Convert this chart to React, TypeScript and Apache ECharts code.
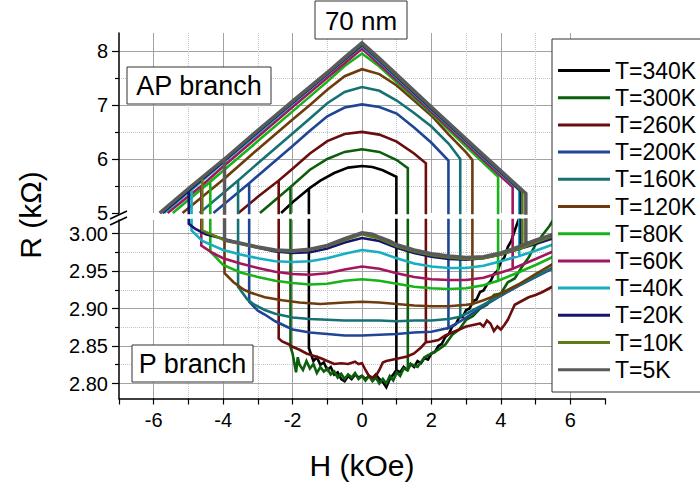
import { useEffect, useRef } from 'react';
import * as echarts from 'echarts';

const FONT = '"Liberation Sans", Arial, Helvetica, sans-serif';

const temps = ['T=340K', 'T=300K', 'T=260K', 'T=200K', 'T=160K', 'T=120K', 'T=80K', 'T=60K', 'T=40K', 'T=20K', 'T=10K', 'T=5K'];
const colors = ['#000000', '#0b5e0b', '#6b0d0d', '#1f4596', '#167272', '#6e3b0c', '#19b219', '#a3155d', '#17aec4', '#15156e', '#5d7d10', '#5a5a5a'];

// switching fields (kOe): P->AP on the left, AP->P on the right
const hLeft = [-1.53, -2.06, -2.4, -3.25, -3.57, -3.96, -4.37, -4.63, -4.91, -4.99, -4.6, -3.96];
const hRight = [0.99, 1.32, 1.84, 2.49, 2.83, 3.18, 3.92, 4.34, 4.53, 4.57, 4.62, 4.72];

// AP branch (kOhm)
const ap340 = [[-2.33, 5.0], [-2.0, 5.2], [-1.53, 5.45], [-1.2, 5.6], [-0.8, 5.74], [-0.4, 5.84], [0, 5.87], [0.3, 5.85], [0.6, 5.79], [0.99, 5.67]];
const ap300 = [[-2.94, 5.0], [-2.5, 5.24], [-2.06, 5.48], [-1.5, 5.8], [-1.0, 6.0], [-0.5, 6.13], [0, 6.18], [0.5, 6.13], [1.0, 5.98], [1.32, 5.83]];
const ap260 = [[-3.56, 5.0], [-3.0, 5.3], [-2.4, 5.6], [-2.0, 5.82], [-1.5, 6.1], [-1.0, 6.33], [-0.5, 6.46], [0, 6.5], [0.5, 6.45], [1.0, 6.32], [1.5, 6.1], [1.84, 5.92]];
const ap200 = [[-4.28, 5.0], [-3.25, 5.55], [-3.0, 5.69], [-2.0, 6.24], [-1.5, 6.52], [-1.0, 6.79], [-0.5, 6.95], [0, 7.01], [0.5, 6.96], [1.0, 6.84], [1.5, 6.58], [2.0, 6.3], [2.49, 5.97]];
const ap160 = [[-4.68, 5.0], [-3.57, 5.6], [-3.0, 5.92], [-2.0, 6.47], [-1.5, 6.75], [-1.0, 7.03], [-0.5, 7.24], [0, 7.33], [0.5, 7.26], [1.0, 7.08], [1.5, 6.85], [2.0, 6.6], [2.5, 6.28], [2.83, 6.0]];
const ap120 = [[-5.17, 5.0], [-3.96, 5.64], [-3.0, 6.18], [-2.0, 6.73], [-1.5, 7.0], [-1.0, 7.28], [-0.5, 7.53], [0, 7.66], [0.5, 7.57], [1.0, 7.36], [1.5, 7.08], [2.0, 6.8], [2.5, 6.45], [3.0, 6.12], [3.18, 5.98]];
const ap80 = [[-5.45, 5.0], [-4.37, 5.58], [-4.0, 5.78], [-3.0, 6.33], [-2.0, 6.88], [-1.0, 7.43], [-0.5, 7.72], [0, 7.95], [0.5, 7.71], [1.0, 7.42], [2.0, 6.84], [3.0, 6.23], [3.92, 5.67]];
const ap60 = [[-5.6, 5.0], [-4.63, 5.5], [-4.0, 5.86], [-3.0, 6.41], [-2.0, 6.96], [-1.0, 7.5], [-0.5, 7.77], [0, 8.04], [0.5, 7.75], [1.0, 7.46], [2.0, 6.87], [3.0, 6.28], [4.0, 5.68], [4.34, 5.48]];
const ap40 = [[-5.7, 5.0], [-4.91, 5.43], [-4.0, 5.93], [-3.0, 6.47], [-2.0, 7.02], [-1.0, 7.56], [-0.5, 7.83], [0, 8.09], [0.5, 7.8], [1.0, 7.5], [2.0, 6.91], [3.0, 6.32], [4.0, 5.73], [4.53, 5.42]];
const ap20 = [[-5.75, 5.0], [-4.99, 5.41], [-4.0, 5.95], [-3.0, 6.5], [-2.0, 7.04], [-1.0, 7.57], [-0.5, 7.84], [0, 8.11], [0.5, 7.82], [1.0, 7.52], [2.0, 6.93], [3.0, 6.34], [4.0, 5.75], [4.57, 5.41]];
const ap10 = [[-5.8, 5.0], [-5.0, 5.44], [-4.6, 5.65], [-3.0, 6.52], [-2.0, 7.06], [-1.0, 7.59], [-0.5, 7.86], [0, 8.13], [0.5, 7.84], [1.0, 7.54], [2.0, 6.95], [3.0, 6.36], [4.0, 5.77], [4.62, 5.4]];
const ap5 = [[-5.83, 5.0], [-5.0, 5.45], [-3.96, 6.0], [-3.0, 6.53], [-2.0, 7.07], [-1.0, 7.6], [-0.5, 7.88], [0, 8.15], [0.5, 7.86], [1.0, 7.56], [2.0, 6.96], [3.0, 6.37], [4.0, 5.78], [4.72, 5.36]];

// P branch (kOhm)
const p340 = [[-1.53, 2.847], [-1.4, 2.83], [-1.3, 2.835], [-1.2, 2.825], [-1.1, 2.828], [-1.0, 2.818], [-0.9, 2.822], [-0.8, 2.812], [-0.7, 2.815], [-0.6, 2.806], [-0.5, 2.803], [-0.4, 2.81], [-0.3, 2.806], [-0.2, 2.812], [-0.1, 2.808], [0, 2.81], [0.1, 2.806], [0.2, 2.81], [0.3, 2.807], [0.4, 2.812], [0.5, 2.806], [0.6, 2.802], [0.7, 2.795], [0.8, 2.806], [0.9, 2.812], [0.99, 2.818], [1.1, 2.815], [1.2, 2.822], [1.3, 2.818], [1.4, 2.826], [1.5, 2.822], [1.6, 2.83], [1.7, 2.827], [1.8, 2.834], [1.9, 2.832], [2.0, 2.84], [2.1, 2.842], [2.2, 2.85], [2.3, 2.853], [2.4, 2.862], [2.5, 2.866], [2.6, 2.876], [2.7, 2.879], [2.8, 2.888], [2.9, 2.889], [3.0, 2.898], [3.1, 2.9], [3.2, 2.91], [3.3, 2.912], [3.4, 2.922], [3.5, 2.924], [3.6, 2.932], [3.7, 2.936], [3.8, 2.946], [3.9, 2.95], [4.0, 2.962], [4.1, 2.968], [4.2, 2.982], [4.3, 2.99], [4.4, 3.004], [4.6, 3.03]];
const p300 = [[-2.06, 2.849], [-2.0, 2.84], [-1.9, 2.815], [-1.85, 2.835], [-1.8, 2.825], [-1.7, 2.818], [-1.6, 2.83], [-1.5, 2.82], [-1.4, 2.826], [-1.3, 2.814], [-1.2, 2.822], [-1.1, 2.816], [-1.0, 2.82], [-0.9, 2.812], [-0.8, 2.816], [-0.7, 2.808], [-0.6, 2.813], [-0.5, 2.806], [-0.4, 2.812], [-0.3, 2.808], [-0.2, 2.814], [-0.1, 2.806], [0, 2.81], [0.1, 2.804], [0.2, 2.81], [0.3, 2.803], [0.4, 2.808], [0.5, 2.8], [0.6, 2.806], [0.7, 2.8], [0.8, 2.81], [0.9, 2.804], [1.0, 2.815], [1.1, 2.81], [1.2, 2.82], [1.32, 2.818], [1.4, 2.826], [1.6, 2.822], [1.8, 2.835], [2.0, 2.84], [2.2, 2.845], [2.4, 2.852], [2.6, 2.865], [2.8, 2.872], [3.0, 2.885], [3.2, 2.89], [3.4, 2.9], [3.6, 2.905], [3.8, 2.918], [4.0, 2.92], [4.2, 2.935], [4.4, 2.94], [4.6, 2.955], [4.8, 2.968], [5.0, 2.985], [5.2, 2.998], [5.4, 3.01], [5.6, 3.025]];
const p260 = [[-2.4, 2.86], [-2.3, 2.856], [-2.1, 2.852], [-2.0, 2.849], [-1.8, 2.845], [-1.6, 2.84], [-1.4, 2.837], [-1.2, 2.834], [-1.0, 2.83], [-0.8, 2.826], [-0.6, 2.827], [-0.4, 2.826], [-0.2, 2.829], [-0.1, 2.826], [0, 2.827], [0.1, 2.818], [0.2, 2.81], [0.3, 2.808], [0.4, 2.81], [0.5, 2.818], [0.6, 2.828], [0.7, 2.83], [0.9, 2.832], [1.1, 2.834], [1.3, 2.836], [1.5, 2.84], [1.7, 2.848], [1.84, 2.855], [2.0, 2.856], [2.2, 2.858], [2.4, 2.864], [2.6, 2.868], [2.8, 2.872], [3.0, 2.876], [3.2, 2.878], [3.4, 2.88], [3.5, 2.876], [3.6, 2.884], [3.7, 2.88], [3.8, 2.87], [3.9, 2.876], [4.0, 2.872], [4.1, 2.878], [4.2, 2.885], [4.3, 2.895], [4.4, 2.905], [4.6, 2.91], [4.8, 2.915], [5.0, 2.918], [5.2, 2.922], [5.4, 2.927], [5.6, 2.932]];
const p200 = [[-3.25, 2.909], [-3.0, 2.897], [-2.8, 2.892], [-2.5, 2.883], [-2.0, 2.872], [-1.5, 2.868], [-1.0, 2.866], [-0.5, 2.864], [0, 2.864], [0.5, 2.865], [1.0, 2.866], [1.5, 2.868], [2.0, 2.869], [2.49, 2.874], [2.8, 2.882], [3.0, 2.888], [3.5, 2.903], [4.0, 2.917], [4.5, 2.93], [5.0, 2.942], [5.6, 2.956]];
const p160 = [[-3.57, 2.929], [-3.3, 2.912], [-3.1, 2.905], [-2.8, 2.898], [-2.5, 2.893], [-2.0, 2.888], [-1.5, 2.886], [-1.0, 2.885], [-0.5, 2.884], [0, 2.884], [0.5, 2.884], [1.0, 2.883], [1.5, 2.884], [2.0, 2.884], [2.5, 2.886], [2.83, 2.889], [3.0, 2.893], [3.5, 2.905], [4.0, 2.918], [4.5, 2.931], [5.0, 2.943], [5.6, 2.957]];
const p120 = [[-3.96, 2.947], [-3.7, 2.935], [-3.4, 2.925], [-3.2, 2.921], [-2.8, 2.915], [-2.3, 2.911], [-1.8, 2.908], [-1.2, 2.906], [-0.5, 2.908], [0, 2.909], [0.5, 2.908], [1.0, 2.906], [1.5, 2.904], [2.0, 2.903], [2.5, 2.903], [3.0, 2.905], [3.18, 2.906], [3.5, 2.911], [4.0, 2.92], [4.5, 2.932], [5.0, 2.946], [5.6, 2.962]];
const p80 = [[-4.37, 2.976], [-4.0, 2.958], [-3.5, 2.948], [-3.0, 2.942], [-2.5, 2.937], [-2.0, 2.934], [-1.5, 2.932], [-1.0, 2.933], [-0.5, 2.937], [0, 2.939], [0.5, 2.937], [1.0, 2.933], [1.5, 2.929], [2.0, 2.927], [2.5, 2.926], [3.0, 2.927], [3.5, 2.931], [3.92, 2.937], [4.5, 2.948], [5.0, 2.958], [5.6, 2.971]];
const p60 = [[-4.63, 2.984], [-4.3, 2.974], [-4.0, 2.967], [-3.5, 2.96], [-3.0, 2.954], [-2.5, 2.949], [-2.0, 2.946], [-1.5, 2.945], [-1.0, 2.947], [-0.5, 2.952], [0, 2.956], [0.5, 2.953], [1.0, 2.947], [1.5, 2.942], [2.0, 2.939], [2.5, 2.938], [3.0, 2.938], [3.5, 2.941], [4.0, 2.948], [4.34, 2.953], [5.0, 2.966], [5.6, 2.978]];
const p40 = [[-4.91, 3.004], [-4.6, 2.99], [-4.0, 2.978], [-3.5, 2.972], [-3.0, 2.967], [-2.5, 2.963], [-2.0, 2.962], [-1.5, 2.963], [-1.0, 2.967], [-0.5, 2.973], [0, 2.978], [0.5, 2.975], [1.0, 2.967], [1.5, 2.96], [2.0, 2.956], [2.5, 2.954], [3.0, 2.954], [3.5, 2.957], [4.0, 2.963], [4.53, 2.97], [5.0, 2.977], [5.6, 2.987]];
const p20 = [[-4.99, 3.013], [-4.8, 3.006], [-4.5, 2.999], [-4.0, 2.993], [-3.5, 2.987], [-3.0, 2.981], [-2.5, 2.976], [-2.0, 2.974], [-1.5, 2.975], [-1.0, 2.98], [-0.5, 2.988], [0, 2.994], [0.5, 2.99], [1.0, 2.981], [1.5, 2.974], [2.0, 2.969], [2.5, 2.966], [3.0, 2.965], [3.5, 2.967], [4.0, 2.972], [4.57, 2.98], [5.0, 2.986], [5.6, 2.995]];
const p10 = [[-4.6, 3.004], [-4.3, 2.998], [-4.0, 2.992], [-3.5, 2.986], [-3.0, 2.981], [-2.5, 2.977], [-2.0, 2.976], [-1.5, 2.978], [-1.0, 2.983], [-0.5, 2.991], [0, 2.999], [0.5, 2.993], [1.0, 2.983], [1.5, 2.976], [2.0, 2.971], [2.5, 2.968], [3.0, 2.966], [3.5, 2.967], [4.0, 2.972], [4.62, 2.981], [5.0, 2.988], [5.6, 2.998]];
const p5 = [[-3.96, 2.991], [-3.5, 2.987], [-3.0, 2.982], [-2.5, 2.978], [-2.0, 2.977], [-1.5, 2.979], [-1.0, 2.984], [-0.5, 2.993], [0, 3.001], [0.3, 2.999], [0.5, 2.995], [0.8, 2.99], [1.0, 2.985], [1.5, 2.978], [2.0, 2.973], [2.5, 2.97], [3.0, 2.968], [3.5, 2.969], [4.0, 2.974], [4.5, 2.982], [4.72, 2.986], [5.0, 2.991], [5.6, 3.0]];

const apBranches = [ap340, ap300, ap260, ap200, ap160, ap120, ap80, ap60, ap40, ap20, ap10, ap5];
const pBranches = [p340, p300, p260, p200, p160, p120, p80, p60, p40, p20, p10, p5];

const upperMajor = [5, 6, 7, 8];
const upperMinor = [5.5, 6.5, 7.5];
const lowerMajor = [2.8, 2.85, 2.9, 2.95, 3.0];
const lowerMinor = [2.825, 2.875, 2.925, 2.975];

function buildOption() {
  const series: any[] = [];
  temps.forEach((name, i) => {
    const hl = hLeft[i];
    const hr = hRight[i];
    const up: number[][] = [];
    apBranches[i].forEach((p) => {
      up.push(p);
      if (p[0] === hl) {
        up.push([hl, 4.5]);
        up.push(p);
      }
    });
    up.push([hr, 4.5]);
    const low: number[][] = [[hl, 3.1]];
    pBranches[i].forEach((p) => {
      low.push(p);
      if (p[0] === hr) {
        low.push([hr, 3.1]);
        low.push(p);
      }
    });
    const lineStyle = { color: colors[i], width: i === 11 ? 3.5 : 2.6, cap: 'butt', join: 'miter' };
    const base = {
      name,
      type: 'line',
      symbol: 'none',
      showSymbol: false,
      clip: true,
      silent: true,
      animation: false,
      lineStyle,
      itemStyle: { color: colors[i] },
      emphasis: { disabled: true },
    };
    series.push({ ...base, xAxisIndex: 1, yAxisIndex: 1, data: up });
    series.push({ ...base, xAxisIndex: 3, yAxisIndex: 3, data: low });
  });

  const dotted = { show: true, lineStyle: { color: '#c4c4c4', type: 'dotted', width: 1 } };
  const solid = { color: '#a3a3a3', type: 'solid', width: 1 };
  const hidden = { axisLine: { show: false, onZero: false }, axisTick: { show: false }, axisLabel: { show: false } };
  const axisLineStyle = { color: '#000', width: 1.5 };
  const tickStyle = { color: '#000', width: 1.2 };
  const labelStyle = { color: '#000', fontSize: 20, fontFamily: FONT };

  return {
    animation: false,
    backgroundColor: '#fff',
    grid: [
      { left: 119, width: 486, top: 33, height: 180, outerBoundsMode: 'none' },
      { left: 119, width: 486, top: 220, height: 178.5, outerBoundsMode: 'none' },
    ],
    xAxis: [
      { gridIndex: 0, type: 'value', position: 'bottom', min: -7, max: 7, minInterval: 1, maxInterval: 1, ...hidden,
        splitLine: { ...dotted, showMinLine: false, showMaxLine: false } },
      { gridIndex: 0, type: 'value', position: 'bottom', min: -7, max: 7, minInterval: 2, maxInterval: 2, ...hidden,
        splitLine: { show: true, showMinLine: false, showMaxLine: false, lineStyle: solid } },
      { gridIndex: 1, type: 'value', position: 'bottom', min: -7, max: 7, minInterval: 1, maxInterval: 1,
        axisLine: { show: true, onZero: false, lineStyle: axisLineStyle },
        axisTick: { show: true, length: 6, lineStyle: tickStyle },
        axisLabel: { show: false },
        splitLine: { ...dotted, showMinLine: false, showMaxLine: false } },
      { gridIndex: 1, type: 'value', position: 'bottom', min: -7, max: 7, minInterval: 2, maxInterval: 2,
        axisLine: { show: false, onZero: false }, axisTick: { show: false },
        axisLabel: { show: true, showMinLabel: false, showMaxLabel: false, margin: 11, ...labelStyle },
        splitLine: { show: true, showMinLine: false, showMaxLine: false, lineStyle: solid } },
    ],
    yAxis: [
      { gridIndex: 0, type: 'value', position: 'left', min: 5, max: 8.33, minInterval: 0.5, maxInterval: 0.5,
        axisLine: { show: true, onZero: false, lineStyle: axisLineStyle },
        axisTick: { show: true, length: 4, customValues: upperMinor, lineStyle: tickStyle },
        axisLabel: { show: false },
        splitLine: dotted },
      { gridIndex: 0, type: 'value', position: 'left', min: 5, max: 8.33, minInterval: 1, maxInterval: 1,
        axisLine: { show: false, onZero: false },
        axisTick: { show: true, length: 7, customValues: upperMajor, lineStyle: tickStyle },
        axisLabel: { show: true, customValues: upperMajor, margin: 11, ...labelStyle,
          formatter: (v: number) => (Math.abs(v - Math.round(v)) < 1e-6 ? String(Math.round(v)) : '') },
        splitLine: { show: true, showMinLine: false, lineStyle: solid } },
      { gridIndex: 1, type: 'value', position: 'left', min: 2.78, max: 3.018, minInterval: 0.025, maxInterval: 0.025,
        axisLine: { show: true, onZero: false, lineStyle: axisLineStyle },
        axisTick: { show: true, length: 4, customValues: lowerMinor, lineStyle: tickStyle },
        axisLabel: { show: false },
        splitLine: dotted },
      { gridIndex: 1, type: 'value', position: 'left', min: 2.78, max: 3.018, minInterval: 0.05, maxInterval: 0.05,
        axisLine: { show: false, onZero: false },
        axisTick: { show: true, length: 7, customValues: lowerMajor, lineStyle: tickStyle },
        axisLabel: { show: true, customValues: lowerMajor, margin: 11, ...labelStyle,
          formatter: (v: number) => {
            const k = v / 0.05;
            return Math.abs(k - Math.round(k)) < 1e-4 && v > 2.79 && v < 3.01 ? v.toFixed(2) : '';
          } },
        splitLine: { show: true, lineStyle: solid } },
    ],
    legend: {
      data: temps,
      orient: 'vertical',
      left: 558,
      top: 59,
      padding: 0,
      icon: 'rect',
      itemWidth: 52,
      itemHeight: 3,
      itemGap: 4.2,
      selectedMode: false,
      z: 20,
      textStyle: { color: '#000', fontSize: 23, fontFamily: FONT },
    },
    graphic: [
      { type: 'rect', z: 10, shape: { x: 552, y: 39, width: 170, height: 353 }, style: { fill: '#fff', stroke: '#333', lineWidth: 1 } },
      { type: 'rect', z: 10, shape: { x: 315, y: 1, width: 92, height: 38 }, style: { fill: '#fff', stroke: '#333', lineWidth: 1 } },
      { type: 'text', z: 11, x: 361, y: 20.5, style: { text: '70 nm', fill: '#000', fontSize: 26, fontFamily: FONT, align: 'center', verticalAlign: 'middle' } },
      { type: 'rect', z: 10, shape: { x: 127, y: 67, width: 144, height: 37 }, style: { fill: '#fff', stroke: '#333', lineWidth: 1 } },
      { type: 'text', z: 11, x: 199, y: 86, style: { text: 'AP branch', fill: '#000', fontSize: 27, fontFamily: FONT, align: 'center', verticalAlign: 'middle' } },
      { type: 'rect', z: 10, shape: { x: 132, y: 345, width: 121, height: 37 }, style: { fill: '#fff', stroke: '#333', lineWidth: 1 } },
      { type: 'text', z: 11, x: 192.5, y: 364, style: { text: 'P branch', fill: '#000', fontSize: 27, fontFamily: FONT, align: 'center', verticalAlign: 'middle' } },
      { type: 'line', z: 12, shape: { x1: 110, y1: 219, x2: 127, y2: 211 }, style: { stroke: '#000', lineWidth: 1.5 } },
      { type: 'line', z: 12, shape: { x1: 110, y1: 225, x2: 127, y2: 217 }, style: { stroke: '#000', lineWidth: 1.5 } },
      { type: 'text', z: 11, x: 30, y: 215, rotation: Math.PI / 2, style: { text: 'R (kΩ)', fill: '#000', fontSize: 30, fontFamily: FONT, align: 'center', verticalAlign: 'middle' } },
      { type: 'text', z: 11, x: 362, y: 465, style: { text: 'H (kOe)', fill: '#000', fontSize: 30, fontFamily: FONT, align: 'center', verticalAlign: 'middle' } },
    ],
    series,
  };
}

export default function App() {
  const ref = useRef<HTMLDivElement>(null);
  useEffect(() => {
    if (!ref.current) return;
    const chart = echarts.init(ref.current, null, { renderer: 'svg' });
    chart.setOption(buildOption() as any);
    return () => chart.dispose();
  }, []);
  return (
    <div
      ref={ref}
      style={{ position: 'absolute', left: 0, top: 0, width: 700, height: 485, background: '#fff' }}
    />
  );
}
